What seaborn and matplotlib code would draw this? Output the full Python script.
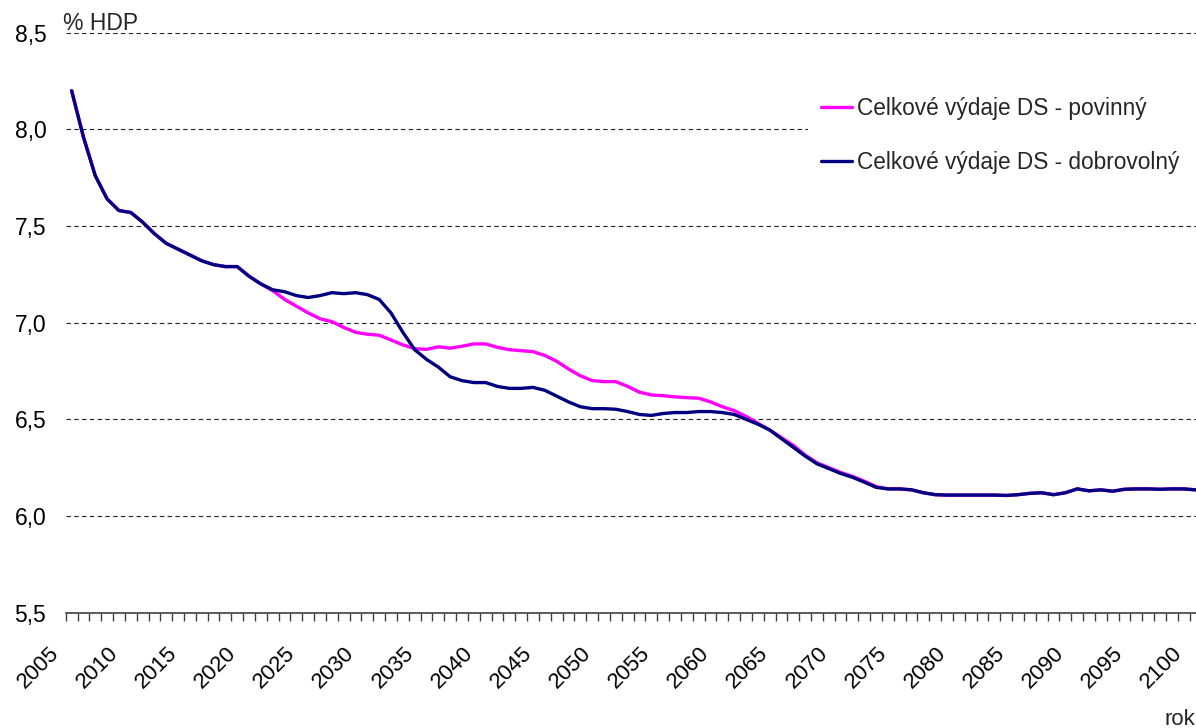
import numpy as np
import pandas as pd
import matplotlib
matplotlib.use('Agg')
import matplotlib.pyplot as plt
import matplotlib.transforms as mtransforms
from matplotlib.patches import Rectangle
import seaborn as sns

years = list(range(2005, 2101))

# Celkové výdaje DS - dobrovolný (% HDP)
dobrovolny = [
    8.20, 7.96, 7.76, 7.64, 7.58, 7.57, 7.52, 7.46, 7.41, 7.38,   # 2005-2014
    7.35, 7.32, 7.30, 7.29, 7.29, 7.24, 7.20, 7.17, 7.16, 7.14,   # 2015-2024
    7.13, 7.14, 7.155, 7.15, 7.155, 7.145, 7.12, 7.05, 6.95, 6.86,  # 2025-2034
    6.81, 6.77, 6.72, 6.70, 6.69, 6.69, 6.67, 6.66, 6.66, 6.665,  # 2035-2044
    6.65, 6.62, 6.59, 6.565, 6.555, 6.555, 6.552, 6.54, 6.525, 6.52,  # 2045-2054
    6.53, 6.535, 6.535, 6.54, 6.54, 6.535, 6.525, 6.50, 6.475, 6.445,  # 2055-2064
    6.40, 6.355, 6.31, 6.27, 6.245, 6.22, 6.20, 6.175, 6.148, 6.14,  # 2065-2074
    6.14, 6.135, 6.12, 6.11, 6.108, 6.108, 6.108, 6.108, 6.108, 6.106,  # 2075-2084
    6.11, 6.117, 6.12, 6.11, 6.12, 6.14, 6.13, 6.135, 6.128, 6.138,  # 2085-2094
    6.14, 6.14, 6.138, 6.14, 6.14, 6.135,  # 2095-2100
]

# Celkové výdaje DS - povinný (% HDP)
povinny = [
    8.20, 7.96, 7.76, 7.64, 7.58, 7.57, 7.52, 7.46, 7.41, 7.38,   # 2005-2014
    7.35, 7.32, 7.30, 7.29, 7.29, 7.24, 7.20, 7.165, 7.12, 7.085,  # 2015-2024
    7.05, 7.02, 7.005, 6.975, 6.95, 6.94, 6.935, 6.91, 6.885, 6.865,  # 2025-2034
    6.862, 6.875, 6.868, 6.878, 6.89, 6.89, 6.872, 6.86, 6.855, 6.85,  # 2035-2044
    6.83, 6.80, 6.76, 6.725, 6.70, 6.695, 6.695, 6.67, 6.64, 6.626,  # 2045-2054
    6.622, 6.616, 6.612, 6.609, 6.59, 6.565, 6.545, 6.515, 6.48, 6.445,  # 2055-2064
    6.405, 6.365, 6.315, 6.275, 6.25, 6.225, 6.205, 6.18, 6.152, 6.14,  # 2065-2074
    6.14, 6.135, 6.12, 6.11, 6.108, 6.108, 6.108, 6.108, 6.108, 6.106,  # 2075-2084
    6.11, 6.117, 6.12, 6.11, 6.12, 6.14, 6.13, 6.135, 6.128, 6.138,  # 2085-2094
    6.14, 6.14, 6.138, 6.14, 6.14, 6.135,  # 2095-2100
]

series_names = ['Celkové výdaje DS - povinný', 'Celkové výdaje DS - dobrovolný']
colors = {series_names[0]: '#FF00FF', series_names[1]: '#000080'}
y_ticks = [5.5, 6.0, 6.5, 7.0, 7.5, 8.0, 8.5]
x_labels = list(range(2005, 2101, 5))

df = pd.concat([
    pd.DataFrame({'rok': years, 'hodnota': povinny, 'serie': series_names[0]}),
    pd.DataFrame({'rok': years, 'hodnota': dobrovolny, 'serie': series_names[1]}),
])

sns.set_theme(style='white')
plt.rcParams['font.family'] = ['Liberation Sans', 'DejaVu Sans']

W, H = 1196, 728
fig = plt.figure(figsize=(W / 100, H / 100), dpi=100)
ax = fig.add_axes([65.7 / W, 1 - 612.6 / H, (1201.4 - 65.7) / W, (612.6 - 32.7) / H])

sns.lineplot(data=df, x='rok', y='hodnota', hue='serie', hue_order=series_names,
             palette=colors, linewidth=2.4, ax=ax, legend=True)

ax.set_xlim(2004.5, 2100.5)
ax.set_ylim(5.5, 8.5)
ax.set_xlabel('')
ax.set_ylabel('')

# y axis
ax.set_yticks(y_ticks)
ax.set_yticklabels([f'{v:.1f}'.replace('.', ',') for v in y_ticks])
ax.tick_params(axis='y', length=0, pad=14, labelsize=16.5, labelcolor='black')
ax.yaxis.grid(True, linestyle=(0, (4, 3)), color='#222222', linewidth=0.8)
ax.xaxis.grid(False)

# x axis: category boundaries as minor ticks, labels every 5 years
ax.set_xticks(x_labels)
ax.set_xticklabels([str(y) for y in x_labels], rotation=45, ha='right',
                   va='center', rotation_mode='anchor')
ax.set_xticks(np.arange(2004.5, 2101, 1), minor=True)
ax.tick_params(axis='x', which='major', length=0, pad=27, labelsize=16, labelcolor='black')
ax.tick_params(axis='x', which='minor', bottom=True, length=6, width=1, color='#404040', direction='out')
offset = mtransforms.ScaledTranslation(-0.16, 0, fig.dpi_scale_trans)
for lab in ax.get_xticklabels():
    lab.set_transform(lab.get_transform() + offset)

for side in ['top', 'right', 'left']:
    ax.spines[side].set_visible(False)
ax.spines['bottom'].set_color('#404040')
ax.spines['bottom'].set_linewidth(1.2)

# white legend area hiding the gridline behind it
ax.add_patch(Rectangle((808 / W, 1 - 195 / H), 1 - 808 / W, 115 / H,
                       transform=fig.transFigure, facecolor='white',
                       edgecolor='none', zorder=1.5, clip_on=False))

handles, labels = ax.get_legend_handles_labels()
ax.legend(handles, labels, loc='upper left', bbox_to_anchor=(807 / W, 1 - 83 / H),
          bbox_transform=fig.transFigure, frameon=False, borderpad=0.6,
          borderaxespad=0, handlelength=1.4, handletextpad=0.22,
          labelspacing=1.4, fontsize=16.3)

fig.text(63 / W, 1 - 30 / H, '% HDP', fontsize=16.5, ha='left', va='baseline')
fig.text(1165 / W, 1 - 725 / H, 'rok', fontsize=16, ha='left', va='baseline')

fig.savefig('out.png', dpi=100)
